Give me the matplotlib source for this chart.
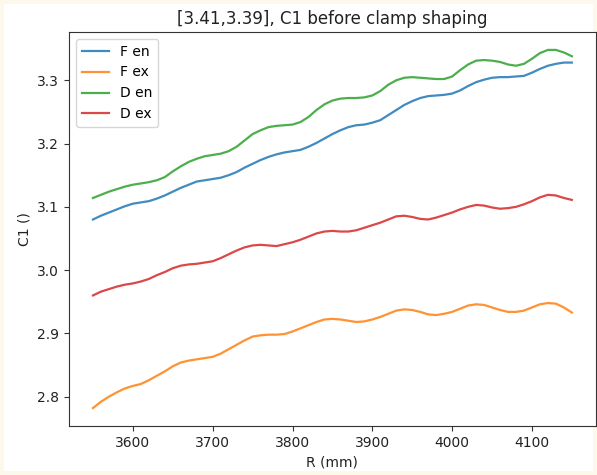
import numpy as np
import matplotlib
matplotlib.use("Agg")
import matplotlib.pyplot as plt

# radius grid (mm)
R = np.arange(3550, 4151, 10)

F_en = [3.080, 3.086, 3.091, 3.096, 3.101, 3.105, 3.107, 3.109, 3.113, 3.118,
        3.124, 3.130, 3.135, 3.140, 3.142, 3.144, 3.146, 3.150, 3.155, 3.162,
        3.168, 3.174, 3.179, 3.183, 3.186, 3.188, 3.190, 3.195, 3.201, 3.208,
        3.215, 3.221, 3.226, 3.229, 3.230, 3.233, 3.237, 3.245, 3.253, 3.261,
        3.267, 3.272, 3.275, 3.276, 3.277, 3.279, 3.284, 3.291, 3.297, 3.301,
        3.304, 3.305, 3.305, 3.306, 3.307, 3.312, 3.318, 3.323, 3.326, 3.328,
        3.328]
F_ex = [2.782, 2.792, 2.800, 2.807, 2.813, 2.817, 2.820, 2.826, 2.833, 2.840,
        2.848, 2.854, 2.857, 2.859, 2.861, 2.863, 2.868, 2.875, 2.882, 2.889,
        2.895, 2.897, 2.898, 2.898, 2.899, 2.903, 2.908, 2.913, 2.918, 2.922,
        2.923, 2.922, 2.920, 2.918, 2.919, 2.922, 2.926, 2.931, 2.936, 2.938,
        2.937, 2.934, 2.930, 2.929, 2.931, 2.934, 2.939, 2.944, 2.946, 2.945,
        2.941, 2.937, 2.934, 2.934, 2.936, 2.941, 2.946, 2.948, 2.947, 2.941,
        2.933]
D_en = [3.114, 3.119, 3.124, 3.128, 3.132, 3.135, 3.137, 3.139, 3.142, 3.147,
        3.156, 3.164, 3.171, 3.176, 3.180, 3.182, 3.184, 3.188, 3.195, 3.205,
        3.215, 3.221, 3.226, 3.228, 3.229, 3.230, 3.234, 3.242, 3.253, 3.262,
        3.268, 3.271, 3.272, 3.272, 3.273, 3.276, 3.283, 3.293, 3.300, 3.304,
        3.305, 3.304, 3.303, 3.302, 3.302, 3.306, 3.316, 3.325, 3.331, 3.332,
        3.331, 3.329, 3.325, 3.323, 3.326, 3.334, 3.343, 3.348, 3.348, 3.344,
        3.338]
D_ex = [2.960, 2.966, 2.970, 2.974, 2.977, 2.979, 2.982, 2.986, 2.992, 2.997,
        3.003, 3.007, 3.009, 3.010, 3.012, 3.014, 3.019, 3.025, 3.031, 3.036,
        3.039, 3.040, 3.039, 3.038, 3.041, 3.044, 3.048, 3.053, 3.058, 3.061,
        3.062, 3.061, 3.061, 3.063, 3.067, 3.071, 3.075, 3.080, 3.085, 3.086,
        3.084, 3.081, 3.080, 3.083, 3.087, 3.091, 3.096, 3.100, 3.103, 3.102,
        3.099, 3.097, 3.098, 3.100, 3.104, 3.109, 3.115, 3.119, 3.118, 3.114,
        3.111]

fig = plt.figure(figsize=(5.97, 4.75), dpi=100)
fig.patch.set_edgecolor("#fcf9ea")
fig.patch.set_linewidth(4.5)
ax = fig.add_axes([0.1156, 0.1032, 0.8824, 0.8294])

style = dict(lw=1.6, alpha=0.85, solid_joinstyle="round")
ax.plot(R, F_en, label="F en", **style)
ax.plot(R, F_ex, label="F ex", **style)
ax.plot(R, D_en, label="D en", **style)
ax.plot(R, D_ex, label="D ex", **style)

ax.set_title("[3.41,3.39], C1 before clamp shaping", color="#222222")
ax.set_xlabel("R (mm)", color="#222222")
ax.set_ylabel("C1 ()", color="#222222")
ax.tick_params(colors="#333333", labelcolor="#222222")
for s in ax.spines.values():
    s.set_color("#333333")
ax.legend(loc="upper left")

fig.savefig("out.png", dpi=100, edgecolor=fig.get_edgecolor())
